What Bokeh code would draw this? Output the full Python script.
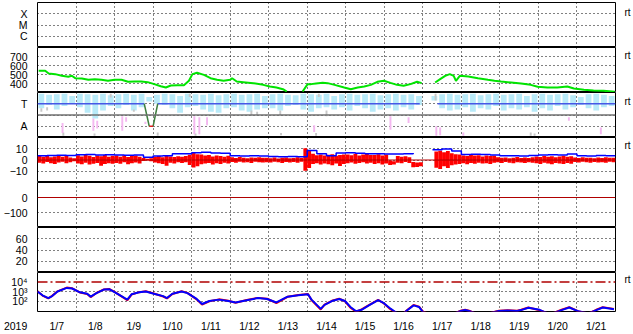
from bokeh.plotting import figure
from bokeh.layouts import column
from bokeh.models import FixedTicker, Span, LinearAxis, LogAxis, Range1d
from bokeh.embed import file_html
from bokeh.resources import INLINE

nan = float("nan")

# ---------------- data ----------------
NBSP = "\u00a0"
year_label = "2019"
day_ticks = [7.0, 7.5, 8.5, 9.5, 10.5, 11.5, 12.5, 13.5, 14.5, 15.5, 16.5, 17.5, 18.5, 19.5, 20.5, 21.5]
day_labels = [year_label + NBSP * 15, "1/7", "1/8", "1/9", "1/10", "1/11", "1/12", "1/13", "1/14",
              "1/15", "1/16", "1/17", "1/18", "1/19", "1/20", "1/21"]
day_bounds = [8, 9, 10, 11, 12, 13, 14, 15, 16, 17, 18, 19, 20, 21]

flare_ticks = [1, 2, 3]
flare_labels = ["C", "M", "X"]

speed_day = [7.03, 7.2, 7.29, 7.46, 7.63, 7.8, 7.89, 7.98, 8.15, 8.32, 8.49, 8.66, 8.83, 9.0, 9.18,
             9.35, 9.52, 9.69, 9.86, 10.03, 10.2, 10.33, 10.46, 10.63, 10.8, 10.93, 11.02, 11.14,
             11.32, 11.49, 11.66, 11.83, 12.0, 12.05, 12.17, 12.34, 12.6, 12.86, 13.03, 13.2, 13.37,
             13.47, 13.6, 13.88, 14.01, 14.1, 14.23, 14.4, 14.53, 14.71, 14.96, 15.13, 15.31, 15.48,
             15.65, 15.82, 15.99, 16.16, 16.33, 16.5, 16.68, 16.85, 16.97, 17.1, 17.32, 17.45, 17.58,
             17.7, 17.8, 17.86, 17.96, 18.18, 18.43, 18.69, 18.86, 19.03, 19.29, 19.55, 19.8, 19.98,
             20.23, 20.49, 20.75, 20.92, 21.18, 21.43, 21.69, 21.98]
speed_kms = [541, 541, 511, 504, 486, 475, 486, 459, 456, 441, 448, 441, 430, 441, 441,
             419, 422, 422, 415, 393, 370, 356, 378, 381, 381, 430, 504, 519,
             496, 459, 441, 430, 441, 459, 422, 415, 404, 385, 367, 356, 337,
             311, nan, 311, 393, 393, 400, 407, 404, 385, 356, 337, 356, 367,
             385, 419, 430, 407, 385, 374, 393, 419, 404, nan, 411, 448, 485,
             504, 485, 430, 485, 478, 459, 441, 430, 422, 411, 400, 385, 363,
             356, 356, 367, 344, 330, 322, 319, 307]
speed_ticks = [400, 500, 600, 700]

# panel 3 (T / A)
ta_ticks = [1, 2, 3]
ta_labels = ["A", "", "T"]
lb_lo = [2.6, 2.9, 2.5, 2.8, 3.0, 2.7, 2.2, 1.7, 2.4, 2.8,
         2.6, 2.9, 2.4, 2.7, 3.2, 3.0, 2.9, 2.6, 2.2, 2.7,
         2.8, 2.5, 2.3, 2.2, 2.6, 2.7, 2.4, 2.3, 2.5, 2.6,
         2.6, 2.4, 2.8, 2.9, 2.5, 2.3, 2.6, 2.7, 2.5, 2.7,
         2.4, 2.8, 2.6, 2.3, 2.5, 2.6, 2.4, 2.7, 2.5, 2.9,
         nan, 3.3, 2.6, 2.4, 2.5, 2.7, 2.3, 2.6, 2.5, 2.8,
         2.4, 2.6, 2.5, 2.7, 2.3, 2.6, 2.4, 2.8, 2.5, 2.7,
         2.9, 2.6, 2.4, 2.7, 2.8]
lb_hi = [3.9, 3.8, 3.85, 3.9, 3.7, 3.9, 3.85, 3.8, 3.9, 3.75,
         3.85, 3.9, 3.8, 3.9, 3.6, 3.8, 3.9, 3.85, 3.7, 3.9,
         3.85, 3.8, 3.9, 3.75, 3.85, 3.9, 3.8, 3.85, 3.9, 3.7,
         3.85, 3.9, 3.8, 3.75, 3.9, 3.85, 3.8, 3.9, 3.7, 3.85,
         3.9, 3.8, 3.85, 3.9, 3.75, 3.85, 3.9, 3.8, 3.85, 3.7,
         nan, 3.7, 3.85, 3.9, 3.8, 3.85, 3.9, 3.75, 3.85, 3.9,
         3.8, 3.85, 3.9, 3.7, 3.85, 3.9, 3.8, 3.85, 3.9, 3.75,
         3.6, 3.85, 3.9, 3.8, 3.7]
gray_day = [7.1, 7.25, 7.67, 8.48, 8.9, 9.5, 10.12, 10.95, 11.1, 12.55, 12.7, 13.3, 13.32, 14.23,
            14.3, 14.5, 17.33, 19.8, 19.9]
gray_lo = [2.3, 2.4, 0.15, 0.15, 3.55, 2.3, 0.15, 3.6, 0.15, 1.95, 2.0, 2.0, 0.2, 0.15,
           3.6, 1.9, 3.3, 0.15, 0.15]
gray_hi = [2.6, 2.7, 0.45, 0.35, 3.9, 2.5, 0.45, 3.9, 0.35, 2.4, 2.3, 2.4, 0.4, 0.4,
           3.9, 2.4, 3.9, 0.45, 0.35]
pink_day = [7.65, 8.45, 8.55, 9.2, 9.3, 9.8, 11.07, 11.2, 11.4, 14.18, 16.16, 16.63, 17.35, 17.45,
            18.05, 20.79, 21.62]
pink_lo = [0.4, 0.6, 0.8, 0.6, 1.4, 1.2, 0.3, 0.3, 1.1, 0.5, 0.7, 1.3, 0.15, 0.2, 0.15, 1.5, 0.3]
pink_hi = [1.3, 1.7, 1.5, 1.9, 1.8, 1.4, 1.9, 1.8, 1.8, 1.1, 1.9, 1.8, 1.0, 0.9, 0.45, 1.8, 0.9]
t_day = [7.0, 9.77, nan, 10.12, 16.92, nan, 17.38, 22.0]
t_val = [3, 3, nan, 3, 3, nan, 3, 3]
tdrop_day = [9.77, 9.9, nan, 10.0, 10.12]
tdrop_val = [3, 1, nan, 1, 3]
tlow_day = [9.9, 10.0]
tlow_val = [1, 1]

# panel 4 (IMF)
bz_ticks = [-10, 0, 10]
bz_hi = [3.5, 2.8, 3.9, 2.5, 3.2, 4.0, 2.9, 3.6, 2.2, 1.5,
         4.2, 3.1, 4.5, 3.8, 2.6, 4.0, 3.4, 4.4, 3.0, 3.7,
         3.9, 3.0, 4.3, 2.7, 3.5, 4.1, 2.9, 1.8, 1.2, 1.5,
         2.9, 3.6, 2.4, 3.8, 3.1, 2.6, 3.3, 2.8, 3.5, 4.6,
         6.5, 5.2, 4.8, 3.9, 4.5, 3.2, 4.1, 3.6, 2.9, 3.8,
         2.4, 1.8, 2.6, 2.0, 1.5, 2.3, 1.9, 2.5, 2.1, 2.0,
         1.6, 2.3, 1.4, 1.9, 2.2, 1.5, 1.8, 2.4, 1.7, 10.5,
         8.0, 5.5, 4.2, 4.8, 3.9, 4.6, 5.2, 3.8, 4.4, 5.0,
         5.0, 4.3, 5.6, 4.1, 4.9, 5.3, 4.5, 4.4, 5.1, 3.9,
         4.7, -0.5, -1.0, 3.6, 2.9, 3.3, 2.5, -1.8, -2.2, -2.0,
         nan, nan, nan, 7.5, 8.2, 6.8, 7.9, 6.1, 5.2, 4.8,
         4.1, 3.6, 4.5, 3.9, 4.3, 3.2, 4.0, 3.5, 3.8, 2.5,
         1.9, 2.3, 1.6, 2.1, 2.6, 1.8, 2.2, 1.7, 2.4, 3.2,
         2.7, 3.6, 2.9, 3.4, 2.5, 3.1, 3.7, 2.8, 3.3, 2.2,
         1.7, 2.4, 1.9, 2.1, 1.6, 2.3, 1.8, 2.5, 2.0, 1.9]
bz_lo = [-2.5, -3.2, -1.8, -2.9, -3.5, -2.2, -1.6, -2.8, -2.0, -1.0,
         -3.0, -3.8, -2.4, -4.1, -3.3, -2.7, -5.2, -3.6, -2.9, -3.4,
         -2.6, -3.4, -2.1, -3.7, -2.9, -2.3, -3.1, -0.8, -0.5, -1.2,
         -2.2, -2.8, -3.6, -5.0, -2.5, -3.0, -2.1, -2.7, -1.9, -4.5,
         -6.7, -5.5, -3.8, -3.2, -2.6, -3.9, -2.8, -3.5, -2.4, -3.0,
         -1.8, -2.5, -1.6, -2.2, -1.9, -2.6, -1.5, -2.0, -2.3, -1.9,
         -2.3, -1.5, -2.1, -2.6, -1.7, -2.2, -1.8, -2.4, -1.6, -9.5,
         -7.0, -3.5, -2.8, -4.0, -3.1, -3.8, -4.6, -3.2, -5.3, -3.5,
         -2.9, -2.2, -3.4, -2.6, -1.9, -3.1, -2.5, -3.6, -2.9, -3.9,
         -3.2, -4.4, -4.0, -2.4, -2.9, -1.8, -2.6, -6.5, -6.2, -5.6,
         nan, nan, nan, -6.8, -7.9, -5.5, -7.2, -4.6, -3.9, -3.5,
         -2.9, -3.8, -2.6, -3.3, -2.4, -3.1, -2.8, -3.6, -2.5, -2.1,
         -2.6, -1.8, -2.4, -2.9, -1.9, -2.3, -2.7, -2.0, -2.5, -2.9,
         -3.5, -2.4, -3.2, -3.8, -2.6, -3.0, -3.6, -2.7, -3.3, -1.8,
         -2.3, -1.6, -2.1, -2.5, -1.7, -2.2, -1.9, -2.4, -1.6, -2.0]
bt_val = [3.7, 3.9, 4.3, 4.0, 4.6, 4.8, 4.4, 4.6, 4.5, 4.2, 4.4, 2.5,
          3.5, 3.8, 5.5, 5.6, 6.5, 6.8, 6.2, 6.0, 3.8, 3.6, 3.7, 3.5,
          3.1, 3.0, 3.2, 3.0, 8.5, 5.5, 3.7, 6.2, 6.5, 6.0, 5.5, 5.6,
          5.4, 5.3, 5.6, 6.2, nan, 9.2, 9.8, 8.0, 5.0, 5.2, 4.9, 4.4,
          3.7, 3.8, 3.6, 4.0, 4.5, 4.7, 4.4, 5.3, 3.8, 3.6, 3.9, 3.7, 3.7]

# panel 5 (Dst) and panel 6
dst_ticks = [-100, 0]
kp_ticks = [20, 40, 60]

# panel 7 (electron flux)
flux_ticks = [100, 1000, 10000]
flux_labels = ["10\u00b2", "10\u00b3", "10\u2074"]
ep_day = [7.0, 7.13, 7.28, 7.38, 7.52, 7.76, 7.9, 8.1, 8.29, 8.38, 8.53, 8.72, 8.87, 9.01, 9.2,
          9.33, 9.44, 9.64, 9.81, 10.02, 10.26, 10.36, 10.5, 10.74, 10.89, 11.13, 11.27, 11.46,
          11.71, 11.95, 12.14, 12.43, 12.72, 12.96, 13.2, 13.49, 13.77, 14.02, 14.11, 14.26,
          14.35, 14.45, 14.64, 14.83, 14.98, 15.12, 15.27, 15.41, 15.6, 15.84, 15.99, 16.13,
          16.28, 16.45, 16.57, 16.76, 16.9, 17.0, 17.3, 17.7, 17.98, 18.1, 18.2, 18.5, 18.97,
          19.2, 19.45, 19.55, 19.74, 20.03, 20.3, 20.6, 20.8, 21.04, 21.3, 21.5, 21.67, 21.96]
ep_blue = [1000, 400, 205, 330, 1000, 2400, 2090, 830, 590, 290, 680, 1590, 1700, 830, 290,
           141, 510, 830, 1000, 590, 330, 205, 590, 1000, 680, 166, 49, 100, 141, 100,
           71, 123, 205, 166, 71, 290, 400, 510, 141, 35, 15, 40, 100, 166, 100,
           24, 8.3, 12, 35, 123, 60, 19.5, 7.2, 3.2, 8.9, 35, 24, 7.2, 2.5, 3.2,
           8.9, 11.2, 8.9, 3.2, 8.9, 10, 8.9, 11.2, 19.5, 12, 4, 11.2, 21, 8.3, 5, 11.2, 21, 14]
ep_red = [1100, 380, 190, 350, 1050, 2600, 2200, 800, 560, 260, 700, 1650, 1800, 860, 270,
          120, 480, 860, 1050, 620, 300, 190, 560, 1050, 720, 150, 42, 95, 150, 105,
          66, 130, 215, 175, 62, 280, 420, 540, 130, 30, 13, 42, 105, 175, 95,
          20, 7.5, 13, 38, 130, 55, 17, 6.5, 3, 9.5, 38, 26, 8, 2.5, 3,
          9.5, 12, 9.5, 3, 9.5, 11, 9.5, 12, 21, 11, 4, 12, 23, 8, 5, 12, 22, 15]
flux_threshold = 10000

# regular time grids for the binned series
bz_day = [7.05 + 0.1 * i for i in range(len(bz_hi))]
lb_day = [7.1 + 0.2 * i for i in range(len(lb_hi))]
bt_day = [7.0 + 0.25 * i for i in range(len(bt_val))]

# ---------------- styling ----------------
FONT = "Liberation Sans"
FS = "10.5px"
xr = Range1d(7, 22)


def panel(height, yr, ticks, labels=None, top=0, bottom=0, log=False, grid=None):
    p = figure(width=633, height=height, x_range=xr, y_range=yr,
               y_axis_type="log" if log else "linear",
               output_backend="svg", toolbar_location=None, title=None,
               min_border_left=32, min_border_right=17,
               min_border_top=top, min_border_bottom=bottom)
    p.outline_line_color = "black"
    p.outline_line_width = 1
    p.outline_line_alpha = 1
    p.background_fill_color = "white"
    p.border_fill_color = "white"
    p.xgrid.ticker = FixedTicker(ticks=day_bounds)
    p.ygrid.ticker = FixedTicker(ticks=grid if grid is not None else ticks)
    for g in (p.xgrid, p.ygrid):
        g.grid_line_color = "black"
        g.grid_line_dash = "1 3"
        g.grid_line_width = 1
        g.grid_line_alpha = 1
    ya = p.yaxis[0]
    ya.ticker = FixedTicker(ticks=ticks)
    if labels is not None:
        ya.major_label_overrides = dict(zip(ticks, labels))
    ya.axis_line_color = None
    ya.major_tick_line_color = None
    ya.minor_tick_line_color = None
    ya.major_label_standoff = 4
    ya.major_label_text_font = FONT
    ya.major_label_text_font_size = FS
    ya.major_label_text_color = "black"
    xa = p.xaxis[0]
    xa.visible = bottom > 0
    xa.ticker = FixedTicker(ticks=day_ticks)
    xa.major_label_overrides = dict(zip(day_ticks, day_labels))
    xa.axis_line_color = None
    xa.major_tick_line_color = None
    xa.minor_tick_line_color = None
    xa.major_label_standoff = 2
    xa.major_label_text_font = FONT
    xa.major_label_text_font_size = FS
    xa.major_label_text_color = "black"
    return p


def rt_axis(p, y, log=False):
    cls = LogAxis if log else LinearAxis
    ax = cls(ticker=FixedTicker(ticks=[y]), major_label_overrides={y: "rt"},
             axis_line_color=None, major_tick_line_color=None, minor_tick_line_color=None,
             major_label_standoff=3, major_label_text_font=FONT,
             major_label_text_font_size="10px", major_label_text_color="black")
    p.add_layout(ax, "right")


# panel 1: flare class
p1 = panel(47, Range1d(0, 4), flare_ticks, flare_labels, top=2)
rt_axis(p1, 3.15)

# panel 2: solar wind speed
p2 = panel(45, Range1d(300, 800), speed_ticks)
p2.line(speed_day, speed_kms, line_color="#00e400", line_width=2)
rt_axis(p2, 712)

# panel 3: T / A
p3 = panel(45, Range1d(0, 4), ta_ticks, ta_labels)
p3.vbar(x=lb_day, bottom=lb_lo, top=lb_hi, width=0.15, fill_color="#b8eaf8", line_color=None)
p3.vbar(x=gray_day, bottom=gray_lo, top=gray_hi, width=0.05, fill_color="#c8c8c8", line_color=None)
p3.vbar(x=pink_day, bottom=pink_lo, top=pink_hi, width=0.05, fill_color="#f4b8f0", line_color=None)
p3.add_layout(Span(location=2, dimension="width", line_color="#707070", line_width=1.5))
p3.line(t_day, t_val, line_color="#4757e6", line_width=1.5)
p3.line(tdrop_day, tdrop_val, line_color="#3f7f3f", line_width=1.5)
p3.line(tlow_day, tlow_val, line_color="#e02020", line_width=1.5)
rt_axis(p3, 3.2)

# panel 4: IMF
p4 = panel(45, Range1d(-20, 20), bz_ticks)
p4.add_layout(Span(location=0, dimension="width", line_color="#b00000", line_width=1))
p4.vbar(x=bz_day, bottom=bz_lo, top=bz_hi, width=0.1, fill_color="#ff0000", line_color=None)
p4.step(bt_day, bt_val, mode="after", line_color="#0000ff", line_width=1.5)
rt_axis(p4, 12.8)

# panel 5
p5 = panel(45, Range1d(-200, 100), dst_ticks)
p5.add_layout(Span(location=0, dimension="width", line_color="#b00000", line_width=1))

# panel 6
p6 = panel(45, Range1d(0, 80), kp_ticks)

# panel 7: electron flux (log)
p7 = panel(62, Range1d(7.943, 100000), flux_ticks, flux_labels, bottom=17, log=True,
           grid=[100, 1000])
p7.add_layout(Span(location=flux_threshold, dimension="width", line_color="#b00000",
                   line_width=1.5, line_dash="10 3 2 3"))
p7.line(ep_day, ep_red, line_color="#ff0000", line_width=2)
p7.line(ep_day, ep_blue, line_color="#0000ff", line_width=2)
rt_axis(p7, 17000, log=True)

layout = column(p1, p2, p3, p4, p5, p6, p7, spacing=0)
open("out.html", "w").write(file_html(layout, INLINE))
